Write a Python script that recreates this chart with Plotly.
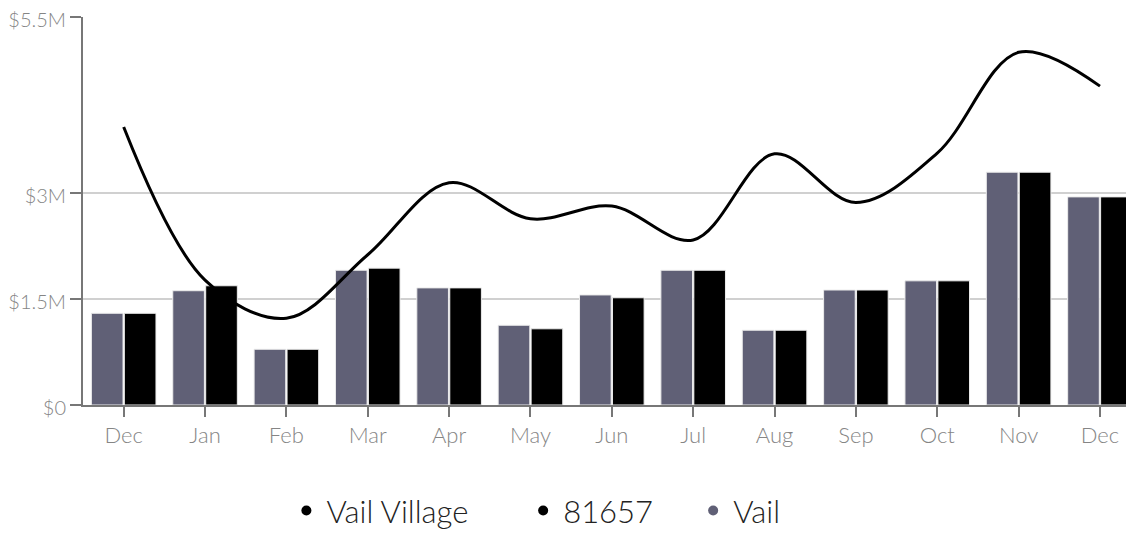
import plotly.graph_objects as go

# monthly sales volume
months = ["Dec", "Jan", "Feb", "Mar", "Apr", "May", "Jun", "Jul", "Aug", "Sep", "Oct", "Nov", "Dec"]
vail = [1.30, 1.62, 0.79, 1.91, 1.66, 1.13, 1.56, 1.91, 1.06, 1.63, 1.76, 3.30, 2.95]
zip_81657 = [1.30, 1.69, 0.79, 1.94, 1.66, 1.08, 1.52, 1.91, 1.06, 1.63, 1.76, 3.30, 2.95]
vail_village = [3.94, 1.77, 1.23, 2.13, 3.15, 2.64, 2.82, 2.34, 3.56, 2.87, 3.57, 5.00, 4.52]

y_ticks = [0, 1.5, 3, 5.5]
y_labels = ["$0", "$1.5M", "$3M", "$5.5M"]

gray = "#606076"
idx = list(range(len(months)))

fig = go.Figure()

fig.add_trace(go.Bar(
    x=idx, y=vail, marker_color=gray,
    marker_line=dict(color="#ececec", width=1),
    name="Vail", showlegend=False,
))
fig.add_trace(go.Bar(
    x=idx, y=zip_81657, marker_color="black",
    marker_line=dict(color="#ececec", width=1),
    name="81657", showlegend=False,
))
fig.add_trace(go.Scatter(
    x=idx, y=vail_village, mode="lines",
    line=dict(color="black", width=3, shape="spline", smoothing=1),
    name="Vail Village", showlegend=False,
))

# legend entries drawn as dots, one legend each so they can be spaced out
entries = [("Vail Village", "black", "legend", 0.195),
           ("81657", "black", "legend2", 0.422),
           ("Vail", gray, "legend3", 0.585)]
legends = {}
for name, col, leg, xpos in entries:
    fig.add_trace(go.Scatter(
        x=[None], y=[None], mode="markers",
        marker=dict(color=col, size=10, symbol="circle"),
        name=name, legend=leg,
    ))
    legends[leg] = dict(
        orientation="h", x=xpos, xanchor="left", y=-0.273, yanchor="middle",
        font=dict(size=31, color="#222222"),
        itemwidth=30, bgcolor="rgba(0,0,0,0)",
    )

# page body has an 8px default margin, so the figure is sized to fit the window
fig.update_layout(
    width=1118, height=522,
    margin=dict(l=75, r=0, t=9, b=125, autoexpand=False),
    plot_bgcolor="white", paper_bgcolor="white",
    font=dict(family="Lato", color="#858585", size=22, weight=300),
    barmode="group", bargap=0.19, bargroupgap=0.04,
    **legends,
)

fig.update_xaxes(
    tickmode="array", tickvals=idx, ticktext=months,
    range=[-0.5, 12.32], automargin=False,
    showline=True, linecolor="#777777", linewidth=2,
    ticks="outside", ticklen=10, tickcolor="#777777", tickwidth=2,
    showgrid=False,
)
fig.update_yaxes(
    tickmode="array", tickvals=y_ticks, ticktext=y_labels,
    range=[0, 5.5], automargin=False, ticklabeloverflow="allow",
    tickfont=dict(size=20), ticklabelshift=3,
    showline=True, linecolor="#777777", linewidth=2,
    ticks="outside", ticklen=11, tickcolor="#777777", tickwidth=2,
    showgrid=True, gridcolor="#d0d0d0", gridwidth=2,
    zeroline=False,
)

fig.write_html("out.html")
